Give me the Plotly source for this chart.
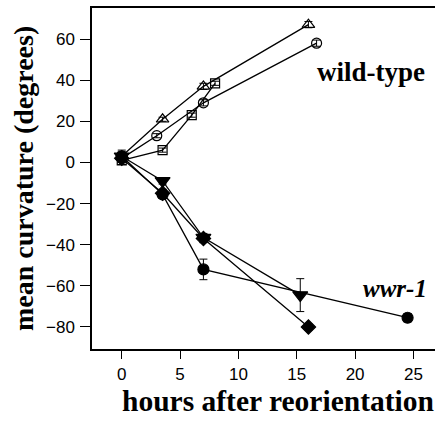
import plotly.graph_objects as go

# wild-type series
wt_tri_x = [0, 3.5, 7, 16]
wt_tri_y = [3, 21, 37, 67]
wt_tri_e = [2, 1, 1.5, 1.5]

wt_cir_x = [0, 3, 7, 16.7]
wt_cir_y = [2, 13, 29, 58]
wt_cir_e = [3, 1, 1.5, 1.5]

wt_sq_x = [0, 3.5, 6, 8]
wt_sq_y = [1, 6, 23, 38.5]
wt_sq_e = [2, 1, 1, 1]

# wwr-1 series
m_tri_x = [0, 3.5, 7, 15.3]
m_tri_y = [3, -9, -36.5, -64.5]
m_tri_e = [2, 1.5, 2, 8]

m_cir_x = [0, 3.5, 7, 24.5]
m_cir_y = [3, -15.5, -52, -75.5]
m_cir_e = [3, 2, 5, 2]

m_dia_x = [0, 3.5, 7, 16]
m_dia_y = [2, -15, -37, -80]
m_dia_e = [2, 2, 2, 1.5]

x_ticks = [0, 5, 10, 15, 20, 25]
y_ticks = [-80, -60, -40, -20, 0, 20, 40, 60]

fig = go.Figure()

def add(x, y, e, symbol, size):
    fig.add_trace(go.Scatter(
        x=x, y=y, mode="lines+markers",
        line=dict(color="black", width=1.3),
        marker=dict(symbol=symbol, size=size, color="black",
                    line=dict(color="black", width=1.2)),
        error_y=dict(type="data", array=e, visible=True, color="black",
                     thickness=1, width=4),
        showlegend=False, cliponaxis=False))

add(wt_sq_x, wt_sq_y, wt_sq_e, "square-open", 9)
add(wt_cir_x, wt_cir_y, wt_cir_e, "circle-open", 10)
add(wt_tri_x, wt_tri_y, wt_tri_e, "triangle-up-open", 11)
add(m_dia_x, m_dia_y, m_dia_e, "diamond", 11)
add(m_cir_x, m_cir_y, m_cir_e, "circle", 11)
add(m_tri_x, m_tri_y, m_tri_e, "triangle-down", 13)

fig.add_annotation(x=21.4, y=44, text="<b>wild-type</b>", showarrow=False,
                   font=dict(family="Liberation Serif", size=27, color="black"))
fig.add_annotation(x=23.45, y=-61.5, text="<b><i>wwr-1</i></b>", showarrow=False,
                   font=dict(family="Liberation Serif", size=25, color="black"))

# axis titles
fig.add_annotation(xref="paper", yref="paper", x=0.541, y=-0.1525,
                   xanchor="center", yanchor="middle",
                   text="<b>hours after reorientation</b>", showarrow=False,
                   font=dict(family="Liberation Serif", size=29.5, color="black"))
fig.add_annotation(xref="paper", yref="paper", x=-0.201, y=0.4985,
                   xanchor="center", yanchor="middle", textangle=-90,
                   text="<b>mean curvature (degrees)</b>", showarrow=False,
                   font=dict(family="Liberation Serif", size=28, color="black"))

fig.update_layout(
    width=435, height=425,
    margin=dict(l=92, r=0, t=8, b=76),
    paper_bgcolor="white", plot_bgcolor="white",
    font=dict(family="Liberation Sans", color="black"),
    xaxis=dict(range=[-2.55, 26.85], tickvals=x_ticks, showgrid=False,
               zeroline=False, showline=True, linecolor="black", linewidth=1.5,
               mirror=True, ticks="outside", ticklen=8, tickwidth=1.3,
               tickcolor="black", ticklabelstandoff=1, automargin=False,
               tickfont=dict(family="Liberation Sans", size=17)),
    yaxis=dict(range=[-90.7, 75.1], tickvals=y_ticks, showgrid=False,
               zeroline=False, showline=True, linecolor="black", linewidth=1.5,
               ticks="outside", ticklen=10, tickwidth=1.3, tickcolor="black",
               ticklabelstandoff=2, automargin=False,
               tickfont=dict(family="Liberation Sans", size=17)),
)

fig.write_html("out.html", config={"displayModeBar": False},
               post_script="document.body.style.margin='0';"
                           "document.body.style.overflow='hidden';")
